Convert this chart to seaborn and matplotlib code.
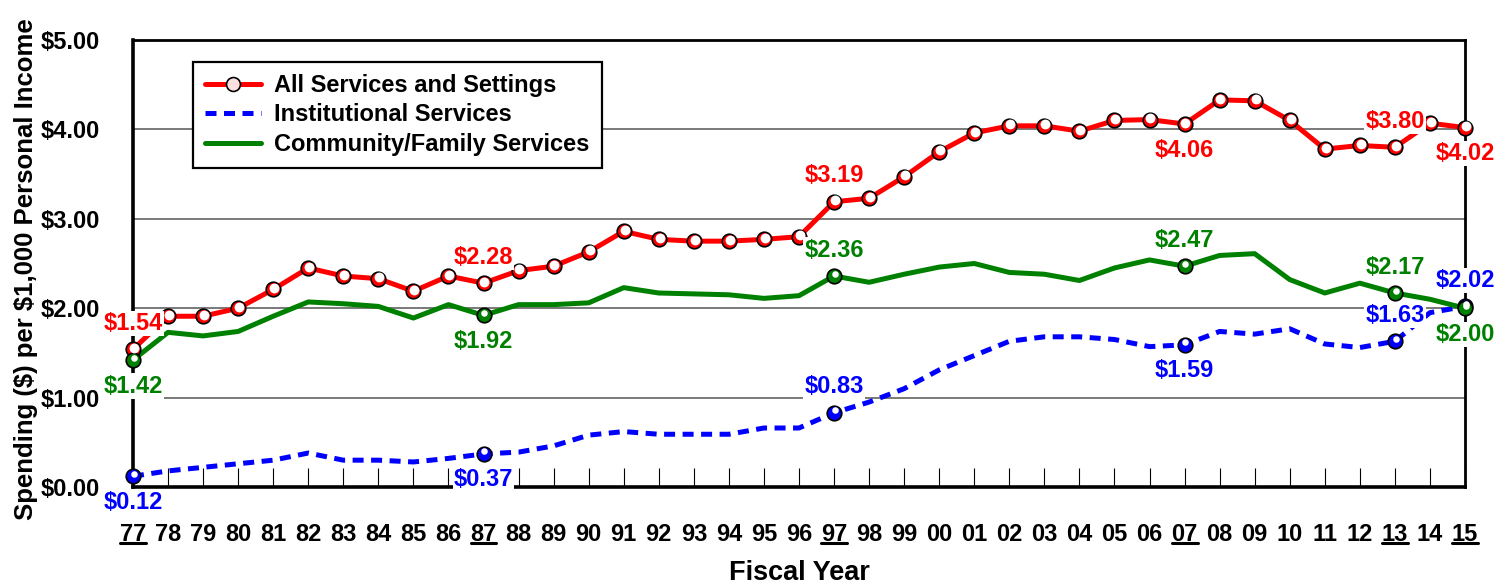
import matplotlib
matplotlib.use("Agg")
import matplotlib.pyplot as plt
import matplotlib.transforms as mtransforms
from matplotlib.lines import Line2D
import seaborn as sns
import pandas as pd

# ------------------------------
# Data
# ------------------------------
years = list(range(1977, 2016))
year_labels = [str(y)[-2:] for y in years]

all_services = [1.54, 1.91, 1.91, 2.00, 2.21, 2.45, 2.36, 2.33, 2.19, 2.36,
                2.28, 2.42, 2.47, 2.63, 2.86, 2.77, 2.75, 2.75, 2.77, 2.80,
                3.19, 3.23, 3.47, 3.75, 3.96, 4.04, 4.04, 3.98, 4.10, 4.11,
                4.06, 4.33, 4.32, 4.10, 3.78, 3.82, 3.80, 4.07, 4.02]
institutional = [0.12, 0.18, 0.22, 0.26, 0.30, 0.38, 0.30, 0.30, 0.28, 0.32,
                 0.37, 0.39, 0.46, 0.58, 0.62, 0.59, 0.59, 0.59, 0.66, 0.66,
                 0.83, 0.95, 1.10, 1.31, 1.47, 1.63, 1.68, 1.68, 1.65, 1.57,
                 1.59, 1.74, 1.71, 1.77, 1.60, 1.56, 1.63, 1.95, 2.02]
community = [1.42, 1.73, 1.69, 1.74, 1.91, 2.07, 2.05, 2.02, 1.89, 2.04,
             1.92, 2.04, 2.04, 2.06, 2.23, 2.17, 2.16, 2.15, 2.11, 2.14,
             2.36, 2.29, 2.38, 2.46, 2.50, 2.40, 2.38, 2.31, 2.45, 2.54,
             2.47, 2.59, 2.61, 2.32, 2.17, 2.28, 2.17, 2.10, 2.00]

labeled_years = [1977, 1987, 1997, 2007, 2013, 2015]

series_names = ["All Services and Settings", "Institutional Services", "Community/Family Services"]
colors = {"All Services and Settings": "#ff0000",
          "Institutional Services": "#0000ff",
          "Community/Family Services": "#008000"}

# label placement: +1 above the point, -1 below
label_side = {
    "All Services and Settings": [1, 1, 1, -1, 1, -1],
    "Institutional Services": [-1, -1, 1, -1, 1, 1],
    "Community/Family Services": [-1, -1, 1, 1, 1, -1],
}

# ------------------------------
# Build long-form frame
# ------------------------------
x_idx = list(range(len(years)))
df = pd.concat([
    pd.DataFrame({"x": x_idx, "year": years, "value": all_services, "series": series_names[0]}),
    pd.DataFrame({"x": x_idx, "year": years, "value": institutional, "series": series_names[1]}),
    pd.DataFrame({"x": x_idx, "year": years, "value": community, "series": series_names[2]}),
], ignore_index=True)

sns.set_theme(style="white")
plt.rcParams["font.family"] = ["Liberation Sans", "DejaVu Sans"]
plt.rcParams["font.weight"] = "bold"
for key in ["text.color", "axes.labelcolor", "xtick.color", "ytick.color"]:
    plt.rcParams[key] = "black"

fig = plt.figure(figsize=(15.12, 5.84), dpi=100)
W, H = 1512, 584
ax = fig.add_axes([133 / W, 1 - 487 / H, (1465 - 133) / W, (487 - 40) / H])

LW = 3.6
sns.lineplot(data=df, x="x", y="value", hue="series", style="series",
             palette=colors,
             dashes={series_names[0]: "", series_names[1]: (2.2, 1.5), series_names[2]: ""},
             linewidth=LW, legend=False, sort=False, ax=ax, zorder=4)

# markers: red on every point, blue/green only on labeled years
def draw_markers(sub, color, inner_s, dy):
    sns.scatterplot(data=sub, x="x", y="value", color=color, s=110,
                    edgecolor="black", linewidth=1.2, ax=ax, zorder=6,
                    clip_on=False, legend=False)
    offs = ax.transData + mtransforms.ScaledTranslation(0.6 / 72, dy / 72, fig.dpi_scale_trans)
    ax.scatter(sub["x"], sub["value"], s=inner_s, color="white", linewidth=0,
               zorder=7, clip_on=False, transform=offs)

red = df[df["series"] == series_names[0]]
draw_markers(red, colors[series_names[0]], 50, 1.0)
for name in series_names[1:]:
    sub = df[(df["series"] == name) & (df["year"].isin(labeled_years))]
    draw_markers(sub, colors[name], 22, 1.8)

# value labels
for name in series_names:
    sub = df[(df["series"] == name) & (df["year"].isin(labeled_years))]
    for side, (_, row) in zip(label_side[name], sub.iterrows()):
        ax.annotate(f"${row['value']:.2f}", xy=(row["x"], row["value"]),
                    xytext=(0, 26 * side), textcoords="offset pixels",
                    ha="center", va="center", color=colors[name],
                    fontsize=17, fontweight="bold", zorder=10,
                    annotation_clip=False,
                    bbox=dict(boxstyle="square,pad=0.05", fc="white", ec="none"))

# axes styling
ax.set_xlim(0, len(years) - 1)
ax.set_ylim(0, 5)
ax.set_yticks([0, 1, 2, 3, 4, 5])
ax.set_yticklabels([f"${v:.2f}" for v in [0, 1, 2, 3, 4, 5]])
ax.set_xticks(x_idx)
ax.set_xticklabels(year_labels)
ax.yaxis.grid(True, color="#555555", linewidth=1.1)
ax.set_axisbelow(True)
ax.tick_params(axis="x", direction="in", length=14, width=0.8, color="black",
               pad=26, labelsize=17, bottom=True)
ax.tick_params(axis="y", length=0, pad=24, labelsize=17)
for lab in ax.get_xticklabels() + ax.get_yticklabels():
    lab.set_fontweight("bold")
for side in ["left", "bottom"]:
    ax.spines[side].set_linewidth(2.6)
for side in ["top", "right"]:
    ax.spines[side].set_linewidth(2.0)
for sp in ax.spines.values():
    sp.set_color("black")
    sp.set_zorder(5)

ax.set_xlabel("Fiscal Year", fontsize=19.5, fontweight="bold", labelpad=10)
ax.set_ylabel(r"Spending (\$) per \$1,000 Personal Income", fontsize=18.5,
              fontweight="bold")
ax.yaxis.set_label_coords(-0.071, 0.488)

# underline the labeled years
trans = mtransforms.blended_transform_factory(ax.transData, ax.transAxes)
for y in labeled_years:
    i = years.index(y)
    ax.plot([i - 0.37, i + 0.37], [-0.125, -0.125], color="black", lw=2.2,
            transform=trans, clip_on=False)

# legend
handles = [
    Line2D([], [], color=colors[series_names[0]], lw=LW, marker="o", markersize=10,
           markerfacecolor="#ffe0e0", markeredgecolor="black", markeredgewidth=1.2),
    Line2D([], [], color=colors[series_names[1]], lw=LW, dashes=(2.2, 1.5)),
    Line2D([], [], color=colors[series_names[2]], lw=LW),
]
leg = ax.legend(handles, series_names, loc="upper left",
                bbox_to_anchor=(193 / W, 1 - 62 / H), bbox_transform=fig.transFigure,
                borderaxespad=0, fancybox=False, framealpha=1, edgecolor="black",
                prop={"size": 17, "weight": "bold"}, handlelength=2.4,
                handletextpad=0.55, labelspacing=0.28, borderpad=0.5)
leg.get_frame().set_linewidth(1.6)
leg.set_zorder(12)

fig.savefig("out.png", dpi=100)
